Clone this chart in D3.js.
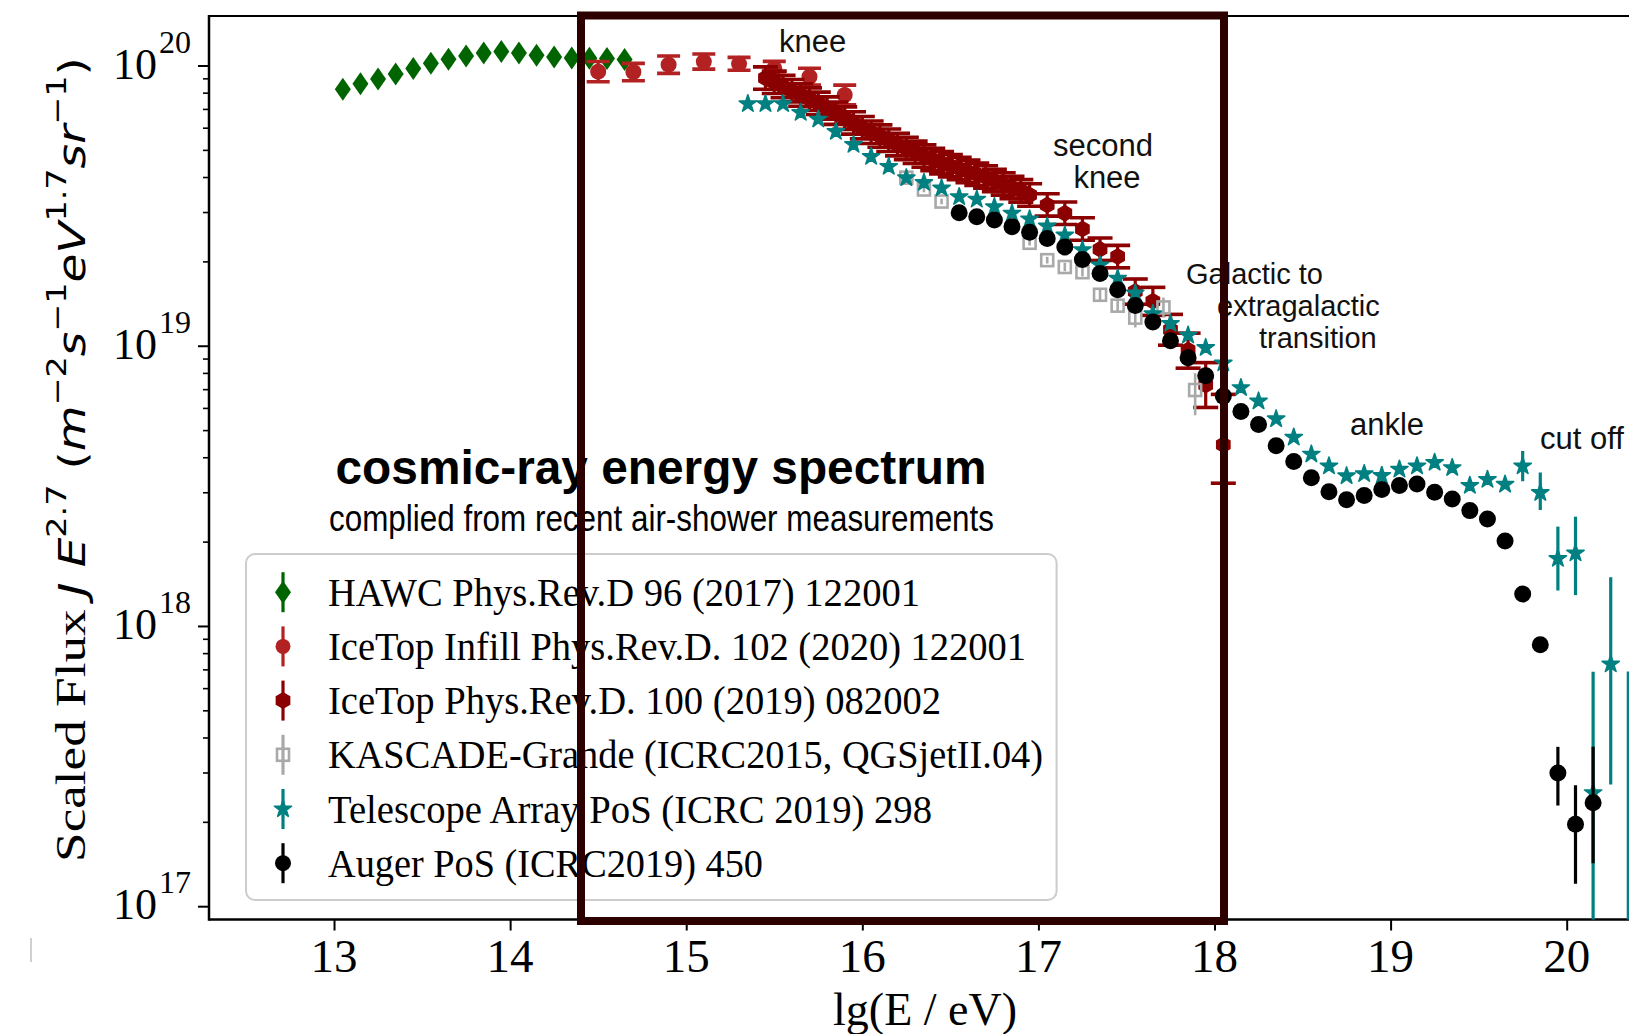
<!DOCTYPE html>
<html><head><meta charset="utf-8">
<script src="https://cdn.jsdelivr.net/npm/d3@7"></script>
<style>html,body{margin:0;padding:0;background:#fff;} svg{display:block}</style>
</head><body>
<svg id="c" width="1629" height="1034"></svg>
<script>
// ---------------- DATA (lg(E/eV), scaled flux, errors in dex) ----------------
const hawcLgE  = [13.05,13.15,13.25,13.35,13.45,13.55,13.65,13.75,13.85,13.95,14.05,14.15,14.25,14.35,14.45,14.55,14.65];
const hawcFlux = [8.22e19,8.61e19,8.95e19,9.33e19,9.75e19,1.019e20,1.052e20,1.081e20,1.109e20,1.122e20,1.109e20,1.089e20,1.072e20,1.064e20,1.062e20,1.059e20,1.050e20];
const hawcErr  = [0.008,0.008,0.008,0.008,0.008,0.008,0.008,0.008,0.008,0.008,0.008,0.008,0.008,0.008,0.008,0.008,0.008];

const infillLgE  = [14.5,14.7,14.9,15.1,15.3,15.5,15.7,15.9];
const infillFlux = [9.51e19,9.48e19,1.007e20,1.033e20,1.014e20,9.77e19,9.12e19,7.85e19];
const infillErr  = [0.036,0.031,0.031,0.027,0.023,0.025,0.030,0.035];

const icetopLgE  = [15.45,15.5,15.55,15.6,15.65,15.7,15.75,15.8,15.85,15.9,15.95,16.0,16.05,16.1,16.15,16.2,16.25,16.3,16.35,16.4,16.45,16.5,16.55,16.6,16.65,16.7,16.75,16.8,16.85,16.9,16.95,
                    17.05,17.15,17.25,17.35,17.45,17.55,17.65,17.75,17.85,17.95,18.05];
const icetopFlux = [9.02e19,8.71e19,8.41e19,8.13e19,7.85e19,7.59e19,7.33e19,7.05e19,6.76e19,6.49e19,6.24e19,6.00e19,5.78e19,5.60e19,5.41e19,5.22e19,5.06e19,4.90e19,4.75e19,4.62e19,4.50e19,4.39e19,4.29e19,4.19e19,4.09e19,4.00e19,3.89e19,3.78e19,3.67e19,3.57e19,3.45e19,
                    3.18e19,2.97e19,2.61e19,2.21e19,2.08e19,1.56e19,1.44e19,1.14e19,9.66e18,7.24e18,4.43e18];
const icetopErrUp = [0.04,0.04,0.04,0.04,0.04,0.04,0.04,0.04,0.04,0.04,0.04,0.04,0.04,0.04,0.04,0.04,0.04,0.04,0.04,0.04,0.04,0.04,0.04,0.04,0.04,0.04,0.04,0.04,0.04,0.04,0.04,
                     0.04,0.04,0.04,0.04,0.04,0.045,0.05,0.055,0.06,0.08,0.18];
const icetopErrDn = [0.04,0.04,0.04,0.04,0.04,0.04,0.04,0.04,0.04,0.04,0.04,0.04,0.04,0.04,0.04,0.04,0.04,0.04,0.04,0.04,0.04,0.04,0.04,0.04,0.04,0.04,0.04,0.04,0.04,0.04,0.04,
                     0.04,0.04,0.04,0.04,0.04,0.045,0.05,0.055,0.065,0.08,0.137];

const kgLgE   = [16.25,16.35,16.45,16.95,17.05,17.15,17.25,17.35,17.45,17.55,17.71,17.89];
const kgFlux  = [3.98e19,3.61e19,3.27e19,2.33e19,2.02e19,1.91e19,1.83e19,1.52e19,1.39e19,1.26e19,1.37e19,6.95e18];
const kgErrUp = [0.01,0.01,0.01,0.01,0.012,0.015,0.015,0.02,0.025,0.035,0.035,0.06];
const kgErrDn = [0.01,0.01,0.01,0.01,0.012,0.015,0.015,0.02,0.025,0.035,0.035,0.09];

const taLgE  = [15.35,15.45,15.55,15.65,15.75,15.85,15.95,16.05,16.15,16.25,16.35,16.45,16.55,16.65,16.75,16.85,16.95,17.05,17.15,17.25,17.35,17.45,17.55,17.65,17.75,17.85,17.95,
                18.05,18.15,18.25,18.35,18.45,18.55,18.65,18.75,18.85,18.95,19.05,19.15,19.25,19.35,19.45,19.55,19.65,19.75,19.85,19.95,20.05,20.15,20.25,20.35];
const taFlux = [7.30e19,7.30e19,7.30e19,6.79e19,6.43e19,5.81e19,5.22e19,4.73e19,4.36e19,3.97e19,3.82e19,3.65e19,3.40e19,3.33e19,3.13e19,2.97e19,2.83e19,2.67e19,2.48e19,2.20e19,1.94e19,1.74e19,1.54e19,1.30e19,1.20e19,1.09e19,9.84e18,
                8.67e18,7.08e18,6.34e18,5.48e18,4.71e18,4.10e18,3.72e18,3.43e18,3.49e18,3.44e18,3.62e18,3.72e18,3.83e18,3.67e18,3.17e18,3.33e18,3.20e18,3.72e18,2.99e18,1.74e18,1.82e18,2.54e17,7.31e17,7.9e16];
const taErrUp = [0.01,0.01,0.01,0.01,0.01,0.01,0.01,0.01,0.01,0.01,0.01,0.01,0.01,0.01,0.01,0.01,0.01,0.01,0.01,0.01,0.01,0.01,0.01,0.01,0.01,0.01,0.01,
                 0.01,0.01,0.01,0.01,0.01,0.01,0.01,0.01,0.01,0.01,0.01,0.01,0.01,0.01,0.015,0.015,0.017,0.054,0.072,0.114,0.13,0.432,0.31,0.94];
const taErrDn = [0.01,0.01,0.01,0.01,0.01,0.01,0.01,0.01,0.01,0.01,0.01,0.01,0.01,0.01,0.01,0.01,0.01,0.01,0.01,0.01,0.01,0.01,0.01,0.01,0.01,0.01,0.01,
                 0.01,0.01,0.01,0.01,0.01,0.01,0.01,0.01,0.01,0.01,0.01,0.01,0.01,0.01,0.015,0.015,0.017,0.054,0.062,0.114,0.15,0.6,0.43,0.3];

const augerLgE  = [16.55,16.65,16.75,16.85,16.95,17.05,17.15,17.25,17.35,17.45,17.55,17.65,17.75,17.85,17.95,18.05,18.15,18.25,18.35,18.45,18.55,18.65,18.75,18.85,18.95,
                   19.05,19.15,19.25,19.35,19.45,19.55,19.65,19.75,19.85,19.95,20.05,20.15];
const augerFlux = [2.985e19,2.884e19,2.812e19,2.661e19,2.541e19,2.415e19,2.249e19,2.032e19,1.811e19,1.585e19,1.393e19,1.216e19,1.042e19,9.06e18,7.82e18,6.61e18,5.82e18,5.24e18,4.40e18,3.86e18,3.38e18,3.01e18,2.82e18,2.92e18,3.07e18,
                   3.17e18,3.21e18,3.00e18,2.84e18,2.58e18,2.41e18,2.01e18,1.30e18,8.57e17,2.99e17,1.96e17,2.34e17];
const augerErrUp = [0.005,0.005,0.005,0.005,0.005,0.005,0.005,0.005,0.005,0.005,0.005,0.005,0.005,0.005,0.005,0.005,0.005,0.005,0.005,0.005,0.005,0.005,0.005,0.005,0.005,
                    0.005,0.005,0.005,0.005,0.005,0.005,0.01,0.015,0.02,0.093,0.139,0.2];
const augerErrDn = [0.005,0.005,0.005,0.005,0.005,0.005,0.005,0.005,0.005,0.005,0.005,0.005,0.005,0.005,0.005,0.005,0.005,0.005,0.005,0.005,0.005,0.005,0.005,0.005,0.005,
                    0.005,0.005,0.005,0.005,0.005,0.005,0.01,0.015,0.02,0.116,0.212,0.216];

const xTicks = [13,14,15,16,17,18,19,20];
const yTickExps = [17,18,19,20];
const legendLabels = [
  "HAWC Phys.Rev.D 96 (2017) 122001",
  "IceTop Infill Phys.Rev.D. 102 (2020) 122001",
  "IceTop Phys.Rev.D. 100 (2019) 082002",
  "KASCADE-Grande (ICRC2015, QGSjetII.04)",
  "Telescope Array PoS (ICRC 2019) 298",
  "Auger PoS (ICRC2019) 450"
];
const annotations = [
  {t:"knee", x:779, y:52, s:31, a:"start"},
  {t:"second", x:1103, y:156, s:31, a:"middle"},
  {t:"knee", x:1107, y:188, s:31, a:"middle"},
  {t:"Galactic to", x:1186, y:284, s:29, a:"start"},
  {t:"extragalactic", x:1217, y:316, s:29, a:"start"},
  {t:"transition", x:1259, y:348, s:29, a:"start"},
  {t:"ankle", x:1350, y:435, s:31, a:"start"},
  {t:"cut off", x:1540, y:449, s:31, a:"start"}
];

// ---------------- LAYOUT ----------------
const SERIF = "'Liberation Serif','Times New Roman',serif";
const SANS = "'Liberation Sans',Arial,sans-serif";
const MATH = "'DejaVu Sans',sans-serif";
const L = 209, T = 16, B = 919.5, R = 1700;
const svg = d3.select('#c');
const x = d3.scaleLinear().domain([12.29, 20.757]).range([L, R]);
const y = d3.scaleLog().domain([Math.pow(10,16.9525), Math.pow(10,20.1767)]).range([B, T]);

svg.append('defs').append('clipPath').attr('id','clip')
  .append('rect').attr('x',L).attr('y',T).attr('width',R-L).attr('height',B-T);

// axes
const xAxis = svg.append('g').attr('transform',`translate(0,${B})`)
  .call(d3.axisBottom(x).tickValues(xTicks).tickSize(11).tickFormat(''));
xAxis.select('.domain').remove();
xAxis.selectAll('line').attr('stroke','#000').attr('stroke-width',2);

const yMinor = [];
[16,17,18,19,20].forEach(e=>{ for(let m=2;m<=9;m++){ const v=m*Math.pow(10,e); if(v>y.domain()[0]*1.01 && v<y.domain()[1]) yMinor.push(v);} });
const yAxisMaj = svg.append('g').attr('transform',`translate(${L},0)`)
  .call(d3.axisLeft(y).tickValues(yTickExps.map(e=>Math.pow(10,e))).tickSize(11).tickFormat(''));
yAxisMaj.select('.domain').remove();
yAxisMaj.selectAll('line').attr('stroke','#000').attr('stroke-width',2);
const yAxisMin = svg.append('g').attr('transform',`translate(${L},0)`)
  .call(d3.axisLeft(y).tickValues(yMinor).tickSize(6).tickFormat(''));
yAxisMin.select('.domain').remove();
yAxisMin.selectAll('line').attr('stroke','#000').attr('stroke-width',1.6);

// spines
svg.append('line').attr('x1',L).attr('x2',1629).attr('y1',T).attr('y2',T).attr('stroke','#000').attr('stroke-width',2);
svg.append('line').attr('x1',L).attr('x2',1629).attr('y1',B).attr('y2',B).attr('stroke','#000').attr('stroke-width',2.5);
svg.append('line').attr('x1',L).attr('x2',L).attr('y1',T-1).attr('y2',B+1.2).attr('stroke','#000').attr('stroke-width',2.5);

// tick labels
xTicks.forEach(t=>{
  svg.append('text').attr('x',x(t)).attr('y',972).attr('text-anchor','middle')
    .attr('font-family',SERIF).attr('font-size',47).text(t);
});
yTickExps.forEach(e=>{
  const yy = y(Math.pow(10,e));
  svg.append('text').attr('x',157).attr('y',yy+13).attr('text-anchor','end')
    .attr('font-family',SERIF).attr('font-size',44).text('10');
  svg.append('text').attr('x',159).attr('y',yy-13).attr('text-anchor','start')
    .attr('font-family',SERIF).attr('font-size',32).text(e);
});
svg.append('text').attr('x',925).attr('y',1025).attr('text-anchor','middle')
  .attr('font-family',SERIF).attr('font-size',46).text('lg(E / eV)');

// y label
const ylab = svg.append('text').attr('text-anchor','middle').attr('transform','translate(85,459.5) rotate(-90)');
const parts = [
  {t:'Scaled Flux ', f:SERIF, s:43},
  {t:'J', f:MATH, s:38, it:true},
  {t:' ', f:MATH, s:38},
  {t:'E', f:MATH, s:38, it:true},
  {t:'2.7', f:MATH, s:27, sup:true},
  {t:' (', f:MATH, s:38},
  {t:'m', f:MATH, s:38, it:true},
  {t:'\u22122', f:MATH, s:27, sup:true},
  {t:'s', f:MATH, s:38, it:true},
  {t:'\u22121', f:MATH, s:27, sup:true},
  {t:'eV', f:MATH, s:38, it:true},
  {t:'1.7', f:MATH, s:27, sup:true},
  {t:'sr', f:MATH, s:38, it:true},
  {t:'\u22121', f:MATH, s:27, sup:true},
  {t:')', f:MATH, s:38}
];
let prevSup = false;
parts.forEach(p=>{
  const ts = ylab.append('tspan').attr('font-family',p.f).attr('font-size',p.s)
    .attr('font-style',p.it?'italic':'normal').text(p.t);
  if (p.sup && !prevSup) ts.attr('dy',-19);
  else if (!p.sup && prevSup) ts.attr('dy',19);
  prevSup = !!p.sup;
});
const ylen = ylab.node().getComputedTextLength();
ylab.attr('transform',`translate(85,459.5) rotate(-90) scale(${805/ylen},1)`);

// ---------------- DATA MARKS ----------------
const plot = svg.append('g').attr('clip-path','url(#clip)');
const hexPath = r => { const pts=[]; for(let k=0;k<6;k++){const a=(-90+60*k)*Math.PI/180; pts.push([r*Math.cos(a), r*Math.sin(a)]);} return 'M'+pts.map(p=>p.join(',')).join('L')+'Z'; };
const markers = {
  diamond: g => g.append('path').attr('d','M0,-11.5L8,0L0,11.5L-8,0Z'),
  circle: (g,r) => g.append('circle').attr('r',r||8),
  hex: g => g.append('path').attr('d',hexPath(8.5)),
  square: g => g.append('rect').attr('x',-6).attr('y',-6).attr('width',12).attr('height',12),
  star: g => g.append('path').attr('d',d3.symbol(d3.symbolStar).size(92)()).attr('stroke-linejoin','round')
};

function styleMarker(s, opt) {
  if (opt.open) s.attr('fill','none').attr('stroke',opt.color).attr('stroke-width',2.6);
  else if (opt.marker==='star') s.attr('fill',opt.color).attr('stroke',opt.color).attr('stroke-width',1.6);
  else s.attr('fill',opt.color);
}

function drawSeries(E, F, eUp, eDn, opt) {
  const g = plot.append('g');
  const data = E.map((e,i)=>({e, v:F[i], up:eUp[i], dn:eDn[i]}));
  g.selectAll('line.eb').data(data).join('line').attr('class','eb')
    .attr('x1',d=>x(d.e)).attr('x2',d=>x(d.e))
    .attr('y1',d=>y(d.v*Math.pow(10,d.up))).attr('y2',d=>y(d.v/Math.pow(10,d.dn)))
    .attr('stroke',opt.color).attr('stroke-width',opt.ew||3.2);
  if (opt.cap) {
    ['up','dn'].forEach(k=>{
      g.selectAll('line.cap'+k).data(data).join('line').attr('class','cap'+k)
        .attr('x1',d=>x(d.e)-opt.cap).attr('x2',d=>x(d.e)+opt.cap)
        .attr('y1',d=>k==='up'?y(d.v*Math.pow(10,d.up)):y(d.v/Math.pow(10,d.dn)))
        .attr('y2',d=>k==='up'?y(d.v*Math.pow(10,d.up)):y(d.v/Math.pow(10,d.dn)))
        .attr('stroke',opt.color).attr('stroke-width',3.6);
    });
  }
  const m = g.selectAll('g.m').data(data).join('g').attr('class','m')
    .attr('transform',d=>`translate(${x(d.e)},${y(d.v)})`);
  m.each(function(){ styleMarker(markers[opt.marker](d3.select(this), opt.r), opt); });
}

drawSeries(hawcLgE, hawcFlux, hawcErr, hawcErr, {color:'#006400', marker:'diamond'});
drawSeries(infillLgE, infillFlux, infillErr, infillErr, {color:'#b22222', marker:'circle', r:8, cap:11.5});
drawSeries(icetopLgE, icetopFlux, icetopErrUp, icetopErrDn, {color:'#8b0000', marker:'hex', cap:12.5});
drawSeries(kgLgE, kgFlux, kgErrUp, kgErrDn, {color:'#a9a9a9', marker:'square', open:true, ew:2.6});
drawSeries(taLgE, taFlux, taErrUp, taErrDn, {color:'#008080', marker:'star'});
drawSeries(augerLgE, augerFlux, augerErrUp, augerErrDn, {color:'#000000', marker:'circle', r:8.5});

// ---------------- ANNOTATIONS ----------------
annotations.forEach(a=>{
  svg.append('text').attr('x',a.x).attr('y',a.y).attr('text-anchor',a.a)
    .attr('font-family',SANS).attr('font-size',a.s).attr('fill','#111').text(a.t);
});

// title
svg.append('text').attr('x',661).attr('y',484).attr('text-anchor','middle')
  .attr('font-family',SANS).attr('font-weight','bold').attr('font-size',48)
  .attr('textLength',651).attr('lengthAdjust','spacingAndGlyphs').text('cosmic-ray energy spectrum');
svg.append('text').attr('x',661.5).attr('y',531).attr('text-anchor','middle')
  .attr('font-family',SANS).attr('font-size',37)
  .attr('textLength',665).attr('lengthAdjust','spacingAndGlyphs').text('complied from recent air-shower measurements');

// legend
const leg = svg.append('g');
leg.append('rect').attr('x',246).attr('y',554).attr('width',810.6).attr('height',346).attr('rx',9)
  .attr('fill','#fff').attr('fill-opacity',0.8).attr('stroke','#cccccc').attr('stroke-width',2);
const legRowY = [592.2, 646.4, 700.6, 754.8, 809, 863.2];
const legTextW = [592, 698, 613, 715, 604, 435];
const legStyle = [
  {color:'#006400', marker:'diamond'},
  {color:'#b22222', marker:'circle', r:7.5},
  {color:'#8b0000', marker:'hex'},
  {color:'#a9a9a9', marker:'square', open:true},
  {color:'#008080', marker:'star'},
  {color:'#000000', marker:'circle', r:8}
];
legendLabels.forEach((lab,i)=>{
  const cy = legRowY[i], st = legStyle[i];
  const h = leg.append('g').attr('transform',`translate(283,${cy})`);
  h.append('line').attr('x1',0).attr('x2',0).attr('y1',-20).attr('y2',20).attr('stroke',st.color).attr('stroke-width',3.2);
  styleMarker(markers[st.marker](h, st.r), st);
  leg.append('text').attr('x',328).attr('y',cy+13.5).attr('font-family',SERIF).attr('font-size',40)
    .attr('textLength',legTextW[i]).attr('lengthAdjust','spacingAndGlyphs').text(lab);
});

// stray mark at bottom-left of the scan
svg.append('line').attr('x1',31).attr('x2',31).attr('y1',938).attr('y2',962).attr('stroke','#d0d0d0').attr('stroke-width',2);

// highlight box
svg.append('rect').attr('x',581).attr('y',15.5).attr('width',643).attr('height',905.5)
  .attr('fill','none').attr('stroke','#2d0000').attr('stroke-width',8);
</script>
</body></html>
